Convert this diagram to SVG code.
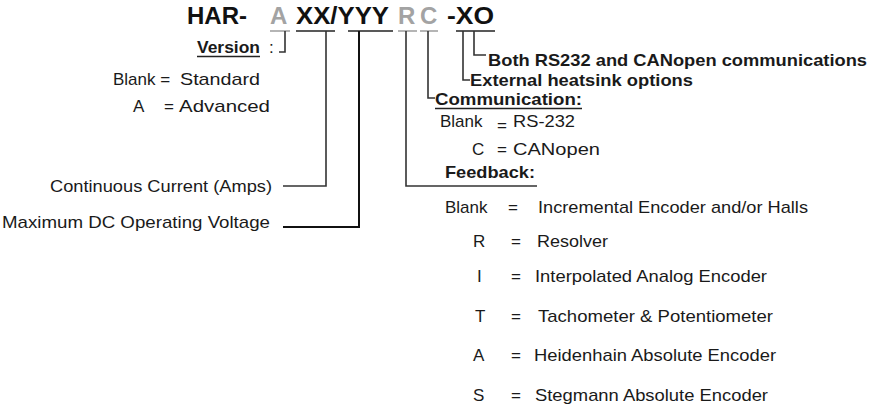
<svg xmlns="http://www.w3.org/2000/svg" width="870" height="408" viewBox="0 0 870 408">
<style>
.t{font-family:"Liberation Sans",Arial,sans-serif;font-size:17px;fill:#1a1a1a}
.b{font-weight:bold}
.h{font-family:"Liberation Sans",Arial,sans-serif;font-size:24px;font-weight:bold;fill:#111}
.g{fill:#a3a3a3}
.ln{fill:none;stroke:#333;stroke-width:1.6}
.ul{stroke:#222;stroke-width:1.6}
.ulg{stroke:#a3a3a3;stroke-width:1.6}
</style>
<rect width="870" height="408" fill="#fff"/>
<g id="title">
<text class="h" x="187" y="24">HAR-</text>
<text class="h g" x="270" y="24">A</text>
<text class="h" x="296" y="24" textLength="93" lengthAdjust="spacingAndGlyphs">XX/YYY</text>
<text class="h g" x="398" y="24">R</text>
<text class="h g" x="420" y="24">C</text>
<text class="h" x="447" y="24" textLength="47" lengthAdjust="spacingAndGlyphs">-XO</text>
<line class="ulg" x1="270" y1="31" x2="290" y2="31"/>
<line class="ul" x1="296" y1="31" x2="335" y2="31"/>
<line class="ul" x1="348" y1="31" x2="393" y2="31"/>
<line class="ulg" x1="398" y1="31" x2="417" y2="31"/>
<line class="ulg" x1="420" y1="31" x2="438" y2="31"/>
<line class="ul" x1="456" y1="31" x2="495" y2="31"/>
</g>
<g id="connectors">
<path class="ln" d="M285,31 V52 H279"/>
<path class="ln" d="M326,31 V186 H283"/>
<path class="ln" d="M359,31 V227 H283" style="stroke:#111;stroke-width:2"/>
<path class="ln" d="M406,31 V186 H537"/>
<path class="ln" d="M428,31 V98 H435"/>
<path class="ln" d="M463,31 V80 H470"/>
<path class="ln" d="M474,31 V55 H486"/>
</g>
<g id="version">
<text class="t b" x="197" y="53" textLength="63" lengthAdjust="spacingAndGlyphs">Version</text>
<line class="ul" x1="197" y1="56.5" x2="260" y2="56.5"/>
<text class="t" x="269" y="53">:</text>
<text class="t" x="113" y="85">Blank =</text>
<text class="t" x="180" y="85" textLength="80" lengthAdjust="spacingAndGlyphs">Standard</text>
<text class="t" x="133" y="112">A</text>
<text class="t" x="164" y="112">=</text>
<text class="t" x="179" y="112" textLength="91" lengthAdjust="spacingAndGlyphs">Advanced</text>
</g>
<g id="current">
<text class="t" x="50" y="192" textLength="222" lengthAdjust="spacingAndGlyphs">Continuous Current (Amps)</text>
</g>
<g id="voltage">
<text class="t" x="2" y="228" textLength="268" lengthAdjust="spacingAndGlyphs">Maximum  DC Operating Voltage</text>
</g>
<g id="both">
<text class="t b" x="488" y="66" textLength="379" lengthAdjust="spacingAndGlyphs">Both RS232 and CANopen communications</text>
</g>
<g id="heatsink">
<text class="t b" x="470" y="86" textLength="223" lengthAdjust="spacingAndGlyphs">External heatsink options</text>
</g>
<g id="communication">
<text class="t b" x="435" y="105" textLength="147" lengthAdjust="spacingAndGlyphs">Communication:</text>
<line class="ul" x1="435" y1="108.5" x2="582" y2="108.5"/>
<text class="t" x="440" y="127">Blank</text>
<text class="t" x="497" y="131">=</text>
<text class="t" x="513" y="127" textLength="62" lengthAdjust="spacingAndGlyphs">RS-232</text>
<text class="t" x="472" y="155">C</text>
<text class="t" x="497" y="155">=</text>
<text class="t" x="513" y="155" textLength="87" lengthAdjust="spacingAndGlyphs">CANopen</text>
</g>
<g id="feedback">
<text class="t b" x="445" y="178" textLength="90" lengthAdjust="spacingAndGlyphs">Feedback:</text>
<text class="t" x="445" y="213">Blank</text>
<text class="t" x="508" y="213">=</text>
<text class="t" x="538" y="213" textLength="270" lengthAdjust="spacingAndGlyphs">Incremental Encoder and/or Halls</text>
<text class="t" x="473" y="247">R</text>
<text class="t" x="511" y="247">=</text>
<text class="t" x="537" y="247" textLength="71" lengthAdjust="spacingAndGlyphs">Resolver</text>
<text class="t" x="477" y="282">I</text>
<text class="t" x="511" y="282">=</text>
<text class="t" x="535" y="282" textLength="232" lengthAdjust="spacingAndGlyphs">Interpolated Analog Encoder</text>
<text class="t" x="475" y="322">T</text>
<text class="t" x="511" y="322">=</text>
<text class="t" x="538" y="322" textLength="235" lengthAdjust="spacingAndGlyphs">Tachometer &amp; Potentiometer</text>
<text class="t" x="473" y="361">A</text>
<text class="t" x="511" y="361">=</text>
<text class="t" x="534" y="361" textLength="242" lengthAdjust="spacingAndGlyphs">Heidenhain Absolute Encoder</text>
<text class="t" x="473" y="401">S</text>
<text class="t" x="511" y="401">=</text>
<text class="t" x="535" y="401" textLength="233" lengthAdjust="spacingAndGlyphs">Stegmann Absolute Encoder</text>
</g>
</svg>
